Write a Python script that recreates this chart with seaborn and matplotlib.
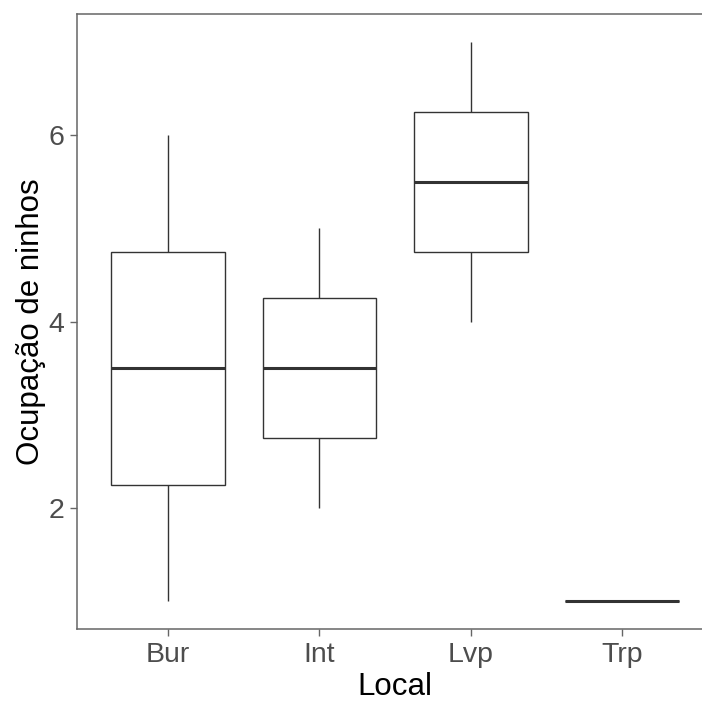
import matplotlib
matplotlib.use("Agg")
import matplotlib.pyplot as plt
import seaborn as sns
import pandas as pd

# Data
bur = [1, 2, 3, 4, 5, 6]
int_ = [2, 3, 4, 5]
lvp = [4, 5, 6, 7]
trp = [1, 1, 1, 1]
categories = ["Bur", "Int", "Lvp", "Trp"]
yticks = [2, 4, 6]

df = pd.DataFrame({
    "Local": ["Bur"] * len(bur) + ["Int"] * len(int_) + ["Lvp"] * len(lvp) + ["Trp"] * len(trp),
    "Ocupação de ninhos": bur + int_ + lvp + trp,
})

sns.set_style("white")
plt.rcParams["font.family"] = ["Liberation Sans", "DejaVu Sans"]

fig = plt.figure(figsize=(7.02, 7.02), dpi=100)
ax = fig.add_axes([77 / 702, 73 / 702, 636 / 702, 615 / 702])

sns.boxplot(data=df, x="Local", y="Ocupação de ninhos", order=categories,
            color="white", linecolor="#333333", linewidth=1.0, width=0.75,
            showcaps=False, fliersize=0, whis=1.5,
            medianprops={"linewidth": 2.2, "color": "#333333"}, ax=ax)

ax.set_xlim(-0.6, 3.6)
ax.set_ylim(0.7, 7.3)
ax.set_yticks(yticks)
ax.set_yticklabels([str(v) for v in yticks])

for side in ["left", "bottom", "top"]:
    ax.spines[side].set_color("#666666")
    ax.spines[side].set_linewidth(1.1)
ax.spines["right"].set_visible(False)

ax.tick_params(axis="both", which="major", direction="out", length=5, width=1.0,
               color="#666666", labelcolor="#4D4D4D", labelsize=20.5, pad=4,
               bottom=True, left=True, top=False, right=False)
ax.set_xlabel("Local", fontsize=22.5, color="black", labelpad=3)
ax.set_ylabel("Ocupação de ninhos", fontsize=22.5, color="black", labelpad=2)

fig.savefig("out.png", dpi=100)
